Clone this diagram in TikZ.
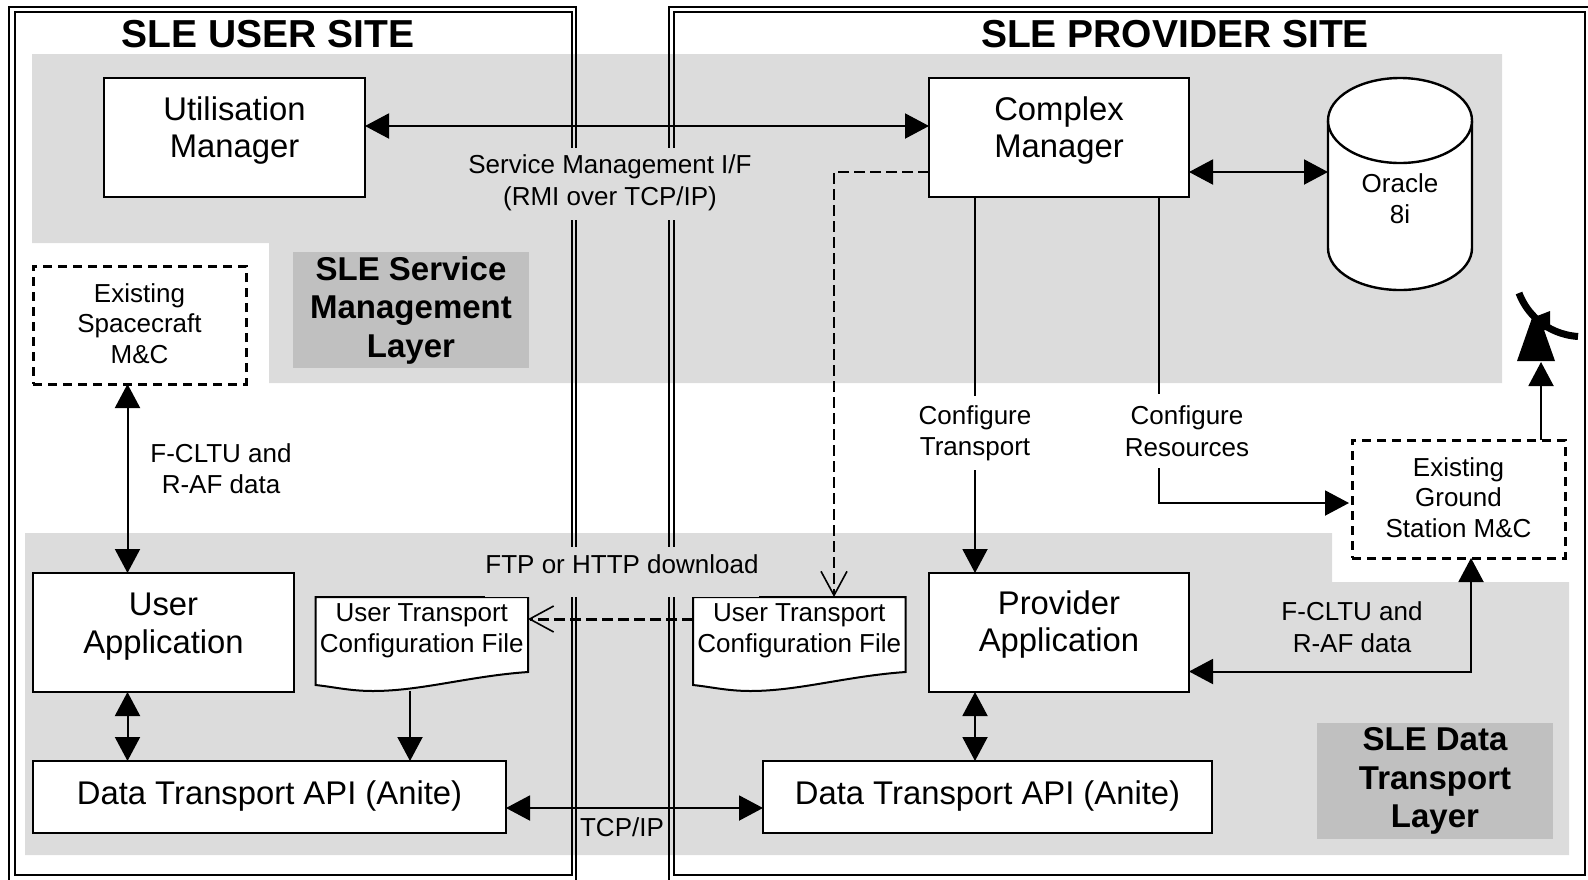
\documentclass[tikz,border=0pt]{standalone}
\usepackage{fontspec}
\setmainfont{Liberation Sans}
\usetikzlibrary{positioning,arrows.meta,shapes}
\definecolor{layergray}{HTML}{DCDCDC}
\definecolor{taggray}{HTML}{C0C0C0}
\tikzset{
    bigtext/.style={font=\fontsize{32.8}{37.5}\selectfont, align=center},
    smalltext/.style={font=\fontsize{26}{31.4}\selectfont, align=center},
    tagtext/.style={font=\fontsize{33}{38.5}\selectfont\bfseries, align=center},
    titletext/.style={font=\fontsize{39}{40}\selectfont\bfseries},
    appbox/.style={draw, fill=white, line width=2.4pt, outer sep=0pt, inner sep=0pt, bigtext},
    existbox/.style={draw, fill=white, line width=3pt, dash pattern=on 9pt off 6pt, outer sep=0pt, inner sep=0pt, text depth=3pt, font=\fontsize{26}{30.2}\selectfont, align=center},
    layertag/.style={fill=taggray, inner sep=0pt, tagtext},
    docnode/.style={inner sep=0pt, outer sep=0pt, minimum width=212.5pt, minimum height=94pt, text depth=32pt, smalltext},
    siteframe/.style={line width=2pt},
    link/.style={line width=2pt, {Triangle[length=24pt,width=25pt]}-{Triangle[length=24pt,width=25pt]}},
    oneway/.style={line width=2pt, -{Triangle[length=24pt,width=25pt]}},
    openlink/.style={dash pattern=on 11pt off 5pt, -{Straight Barb[length=24pt,width=26pt,line width=1.6pt]}}
}
\newcommand{\configfile}[2]{%
    \draw[line width=2pt, fill=white] (#2,597) -- ++(212.5,0) -- ++(0,75)
        .. controls ++(-58,4) and ++(48,0) .. ++(-155,19)
        .. controls ++(-23,0) and ++(19,2) .. ++(-57.5,-6) -- cycle;
    \node[docnode] (#1) at ({#2+106.25},644) {User Transport\\Configuration File};
}

\begin{document}
\begin{tikzpicture}[x=1pt,y=-1pt]
    \useasboundingbox (0,0) rectangle (1588,879);

    % Layers
    \fill[layergray] (32,54) -- (1502,54) -- (1502,383) -- (269,383) -- (269,243) -- (32,243) -- cycle;
    \fill[layergray] (25,533) -- (1332,533) -- (1332,582) -- (1569,582) -- (1569,855) -- (25,855) -- cycle;

    % Sites
    \draw[siteframe] (9,7) rectangle (576,890);
    \draw[siteframe] (15,12) rectangle (572,875);
    \draw[siteframe] (669,7) rectangle (1595,890);
    \draw[siteframe] (674,12) rectangle (1585,875);

    \node[titletext] (usersite) at (268,34) {SLE USER SITE};
    \node[titletext] (providersite) at (1175,34) {SLE PROVIDER SITE};

    \node[layertag, minimum width=236pt, minimum height=116pt] (servicetag) at (411,310) {SLE Service\\Management\\Layer};
    \node[layertag, minimum width=236pt, minimum height=116pt] (datatag) at (1435,781) {SLE Data\\Transport\\Layer};

    % Boxes
    \node[appbox, minimum width=261pt, minimum height=119pt, text depth=21pt] (utilmgr) at (234.5,137.5) {Utilisation\\Manager};
    \node[appbox, minimum width=260pt, minimum height=119pt, text depth=21pt] (complexmgr) at (1059,137.5) {Complex\\Manager};
    \node[appbox, minimum width=261pt, minimum height=119pt, text depth=19pt] (userapp) at (163.5,632.5) {User\\Application};
    \node[appbox, minimum width=260pt, minimum height=119pt, text depth=23pt] (providerapp) at (1059,632.5) {Provider\\Application};
    \node[appbox, minimum width=473pt, minimum height=72pt, text depth=9pt] (userapi) at (269.5,797) {Data Transport API (Anite)};
    \node[appbox, minimum width=449pt, minimum height=72pt, text depth=9pt] (providerapi) at (987.5,797) {Data Transport API (Anite)};
    \node[existbox, minimum width=213pt, minimum height=118pt] (spacecraftmc) at (139.5,325) {Existing\\Spacecraft\\M\&C};
    \node[existbox, minimum width=213pt, minimum height=118pt] (groundmc) at (1458.5,499) {Existing\\Ground\\Station M\&C};

    % Oracle
    \draw[line width=2.4pt, fill=white] (1328,120.5) -- (1328,248)
        .. controls (1328,271.5) and (1360,290) .. (1400,290)
        .. controls (1440,290) and (1472,271.5) .. (1472,248) -- (1472,120.5);
    \draw[line width=2.4pt, fill=white] (1400,120.5) ellipse [x radius=72pt, y radius=42.5pt];
    \node[smalltext, inner sep=0pt, outer sep=0pt, minimum width=144pt, minimum height=183pt] (oracle) at (1400,198.5) {Oracle\\8i};

    \configfile{userfile}{315.5}
    \configfile{providerfile}{693}

    % Antenna
    \fill (1517,361) -- (1532,318) -- (1550,311) -- (1550,330) -- (1544,330) -- (1555,361) -- cycle;
    \draw[line width=7pt] (1519,293) .. controls (1526,312) and (1545,334) .. (1578,336.5);

    % Labels
    \node[smalltext, fill=layergray, minimum height=72pt, minimum width=290pt, text depth=8pt, inner sep=0pt] (mgmtlabel) at (610,184) {Service Management I/F\\(RMI over TCP/IP)};
    \node[font=\fontsize{26}{30.5}\selectfont, fill=layergray, minimum height=50pt, text depth=16pt, inner sep=0pt] (ftplabel) at (622,572) {FTP or HTTP download};
    \node[smalltext] (tcplabel) at (622,827) {TCP/IP};
    \node[smalltext] (spacedata) at (221,468.5) {F-CLTU and\\R-AF data};
    \node[smalltext] (grounddata) at (1352,627) {F-CLTU and\\R-AF data};

    % Connectors
    \coordinate (ctx) at (975,0);
    \coordinate (crx) at (1159,0);
    \coordinate (cry) at (0,503);
    \coordinate (mgy) at (0,126);
    \coordinate (orcy) at (0,172);
    \coordinate (dlx) at (834,0);
    \coordinate (fly) at (0,619);
    \coordinate (apx) at (1541,0);
    \coordinate (gdy) at (0,671.5);
    \coordinate (gdx) at (1471,0);
    \coordinate (lnx) at (127.5,0);
    \coordinate (dsh) at (410,0);
    \coordinate (tcy) at (0,808);
    \coordinate (anb) at (1541,362);

    \draw[link] (utilmgr.east |- mgy) -- (complexmgr.west |- mgy);
    \draw[link] (complexmgr.east |- orcy) -- (oracle.west |- orcy);
    \draw[oneway] (complexmgr.south -| ctx) -- (providerapp.north -| ctx);
    \draw[oneway, shorten >=3pt] (complexmgr.south -| crx) |- (groundmc.west |- cry);
    \node[smalltext, fill=white, inner sep=0pt, minimum height=74pt] (cfgtransport) at (975,433) {Configure\\Transport};
    \node[smalltext, fill=white, inner sep=0pt, minimum height=74pt] (cfgresources) at (1187,431) {Configure\\Resources};
    \draw[oneway] (groundmc.north -| apx) -- (anb);
    \draw[link] (providerapp.east |- gdy) -| (groundmc.south -| gdx);
    \draw[link] (spacecraftmc.south -| lnx) -- (userapp.north -| lnx);
    \draw[link] (userapp.south -| lnx) -- (userapi.north -| lnx);
    \draw[link] (providerapp.south -| ctx) -- (providerapi.north -| ctx);
    \draw[link] (userapi.east |- tcy) -- (providerapi.west |- tcy);
    \draw[oneway] (userfile.south -| dsh) -- (userapi.north -| dsh);
    \draw[openlink, line width=1.6pt] (complexmgr.west |- orcy) -| (providerfile.north -| dlx);
    \draw[openlink, line width=3pt] (providerfile.west |- fly) -- (userfile.east |- fly);
\end{tikzpicture}
\end{document}
